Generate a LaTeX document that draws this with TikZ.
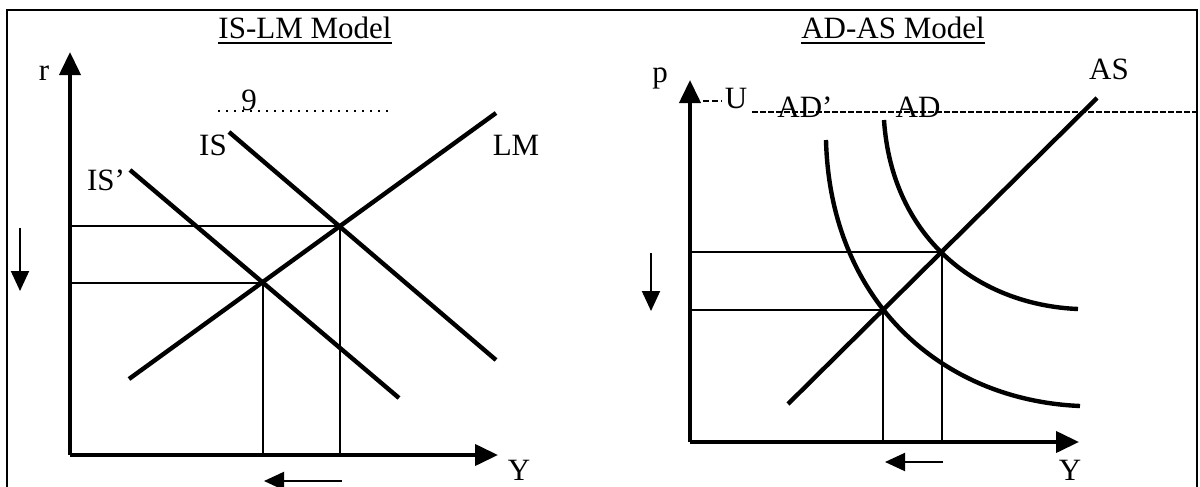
\documentclass[tikz,border=0pt]{standalone}
\usepackage{fontspec}
\setmainfont{Liberation Serif}
\usetikzlibrary{arrows.meta}

\begin{document}
\begin{tikzpicture}[x=0.5pt,y=-0.5pt,
	every node/.style={font=\fontsize{15.5}{18}\selectfont, inner sep=0pt, anchor=base},
	axis/.style={line width=2pt, -{Triangle[length=11.5pt,width=10.5pt]}},
	curve/.style={line width=2.2pt},
	guide/.style={line width=1pt},
	shiftarrow/.style={line width=1pt, -{Triangle[length=10pt,width=9pt]}}]
	\useasboundingbox (0,0) rectangle (1200,487);
	\draw[line width=1pt] (7,487) -- (7,10) -- (1197,10) -- (1197,487);
	\begin{scope}
		\node (islm) at (305,39) {IS-LM Model};
		\draw[line width=0.9pt] ([yshift=-2pt]islm.base west) -- ([yshift=-2pt]islm.base east);
		\coordinate (o1) at (70,455);
		\draw[axis] (o1) -- (70,52);
		\draw[axis] (o1) -- (498,455);
		\node (r) at (44,80) {r};
		\node (y1) at (519,480) {Y};
		\draw[line width=0.6pt, dash pattern=on 1pt off 3pt] (218,111) -- (392,111);
		\node (nine) at (249,110) {9};
		\draw[curve] (129,379) -- (496,113);
		\draw[curve] (229,132) -- (496,360);
		\draw[curve] (130,170) -- (399,398);
		\node (lm) at (516,155) {LM};
		\node (is) at (213,155) {IS};
		\node (isp) at (106,190) {IS'};
		\coordinate (e1) at (340,226);
		\coordinate (e2) at (263,283);
		\draw[guide] (70,226) -- (e1) -- (340,455);
		\draw[guide] (70,283) -- (e2) -- (263,455);
		\draw[shiftarrow] (20,228) -- (20,291);
		\draw[shiftarrow] (342,481) -- (264,481);
	\end{scope}
	\begin{scope}
		\node (adas) at (893,39) {AD-AS Model};
		\draw[line width=0.9pt] ([yshift=-2pt]adas.base west) -- ([yshift=-2pt]adas.base east);
		\coordinate (o2) at (690,442);
		\draw[axis] (o2) -- (690,80);
		\draw[axis] (o2) -- (1079,442);
		\node (p) at (660,82) {p};
		\node (y2) at (1070,480) {Y};
		\draw[line width=1pt, dash pattern=on 3pt off 1.5pt] (703,101) -- (722,101);
		\node (u) at (736,108) {U};
		\draw[line width=0.6pt, dash pattern=on 3pt off 1pt] (752,112) -- (1200,112);
		\node (adp) at (805,117) {AD'};
		\node (ad) at (918,117) {AD};
		\node (as) at (1109,79) {AS};
		\draw[curve] (788,404) -- (1097,98);
		\draw[curve] (884,120) .. controls (892,240) and (980,305) .. (1078,309);
		\draw[curve] (826,140) .. controls (830,300) and (940,400) .. (1080,406);
		\coordinate (e3) at (942,252);
		\coordinate (e4) at (883,310);
		\draw[guide] (690,252) -- (e3) -- (942,442);
		\draw[guide] (690,310) -- (e4) -- (883,442);
		\draw[shiftarrow] (651,253) -- (651,311);
		\draw[shiftarrow] (943,462) -- (885,462);
	\end{scope}
\end{tikzpicture}
\end{document}
